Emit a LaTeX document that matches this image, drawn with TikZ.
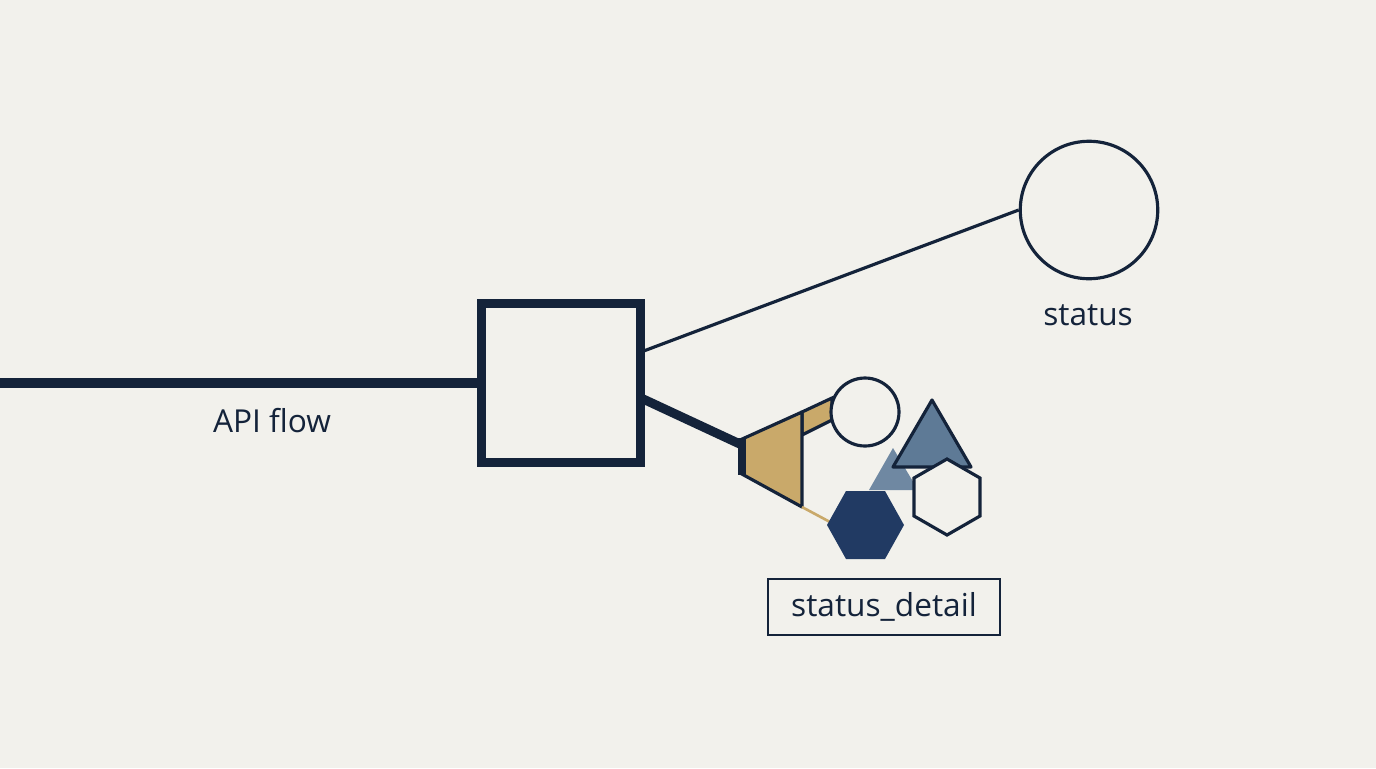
\documentclass[tikz,border=0pt]{standalone}
\usepackage{fontspec}
\setmainfont{Open Sans}
\usetikzlibrary{positioning}
\definecolor{bgpaper}{HTML}{F2F1EC}
\definecolor{ink}{HTML}{14233A}
\definecolor{gold}{HTML}{C9A96A}
\definecolor{navy}{HTML}{213A63}
\definecolor{slate}{HTML}{5E7A96}
\definecolor{paleslate}{HTML}{6F88A2}
\begin{document}
\begin{tikzpicture}
        [x=0.02cm, y=-0.02cm,
        label/.style={font=\fontsize{18}{21}\selectfont, text=ink, inner sep=0pt},
        heavy/.style={ink, line width=5.2pt},
        thin/.style={ink, line width=1.8pt}]

        % background and frame
        \fill[bgpaper] (0,0) rectangle (1376,768);
        \useasboundingbox (0,0) rectangle (1376,768);

        % main pieces
        \node[draw=ink, line width=4.7pt, minimum size=3.18cm, inner sep=0pt] (gate) at (561,383) {};
        \node[draw=ink, line width=1.8pt, circle, minimum size=2.75cm, inner sep=0pt] (status) at (1089,210) {};
        \node[label] (statuslbl) at (1088,315) {status};
        \node[label] (apilbl) at (272,421) {API flow};
        \coordinate (start) at (0,383);
        \coordinate (gateout) at (641,352);
        \coordinate (gatelow) at (641,398);
        \coordinate (funnel) at (742,445);

        % connectors
        \draw[heavy] (start) -- (gate.west);
        \draw[thin] (gateout) -- (status.west);
        \draw[heavy] (gatelow) -- (funnel);

        % funnel and band
        \filldraw[fill=gold, draw=ink, line width=1.8pt] (802,412) -- (832,398) -- (832,420) -- (802,435) -- cycle;
        \filldraw[fill=gold, draw=ink, line width=1.8pt, line join=round] (740,440) -- (802,412) -- (802,507) -- (740,473) -- cycle;
        \draw[ink, line width=4pt] (742,438) -- (742,475);
        \node[draw=ink, line width=1.8pt, circle, fill=bgpaper, minimum size=1.36cm, inner sep=0pt] (small) at (865,412) {};
        \coordinate (funnelend) at (802,507);
        \coordinate (hexa) at (830,522);
        \draw[gold, line width=1.5pt] (funnelend) -- (hexa);

        % triangles
        \fill[paleslate] (893,448) -- (918,490) -- (869,490) -- cycle;
        \filldraw[fill=slate, draw=ink, line width=1.8pt, line join=round] (932,400) -- (971,467) -- (893,467) -- cycle;

        % hexagons
        \fill[navy] (827,525) -- (846,491) -- (885,491) -- (904,525) -- (885,559) -- (846,559) -- cycle;
        \filldraw[fill=bgpaper, draw=ink, line width=1.8pt] (947,459) -- (980,478) -- (980,516) -- (947,535) -- (914,516) -- (914,478) -- cycle;

        % detail box
        \node[label, draw=ink, line width=1.4pt, minimum width=4.64cm, minimum height=1.12cm] (detail) at (884,607) {status\_detail};

\end{tikzpicture}
\end{document}
